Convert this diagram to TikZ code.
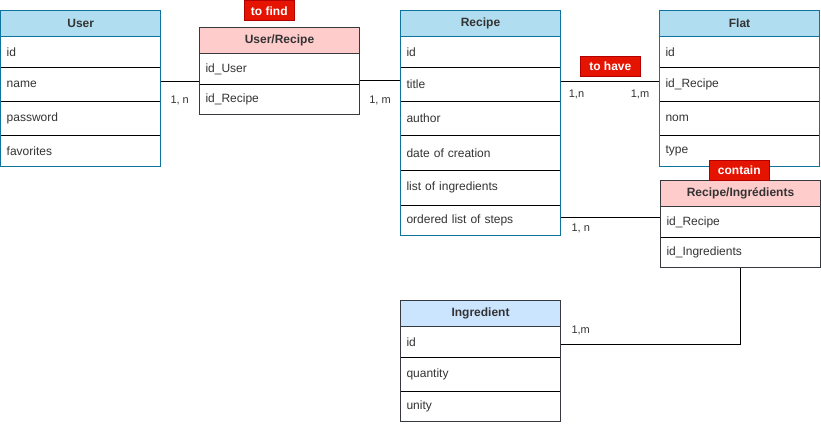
\documentclass[tikz,border=0pt]{standalone}
\usepackage{fontspec}
\setmainfont{Liberation Sans}
\usetikzlibrary{calc}
\definecolor{txt}{HTML}{333333}
\definecolor{bluefill}{HTML}{B1DDF0}
\definecolor{bluedraw}{HTML}{10739E}
\definecolor{pinkfill}{HTML}{FFCCCC}
\definecolor{lightblue}{HTML}{CCE5FF}
\definecolor{graydraw}{HTML}{36393D}
\definecolor{tagred}{HTML}{E51400}
\definecolor{tagdraw}{HTML}{B20000}
\begin{document}
\begin{tikzpicture}[x=1pt,y=-1pt,
  every node/.style={font=\fontsize{12}{14}\selectfont, text=txt},
  hdr/.style={fill=#1, minimum width=160pt, minimum height=26pt, inner sep=0pt,
    anchor=north west, font=\fontsize{12}{14}\selectfont\bfseries},
  fieldrow/.style={minimum height=#1, text width=148pt, inner xsep=6pt,
    inner ysep=0pt, align=left, anchor=north west},
  sep/.style={draw=black, line width=1pt},
  frame/.style={draw=#1, line width=1pt},
  conn/.style={draw=black, line width=1pt},
  tag/.style={fill=tagred, draw=tagdraw, line width=0.8pt, text=white,
    font=\fontsize{12}{14}\selectfont\bfseries, inner sep=0pt, minimum height=20pt},
  card/.style={font=\fontsize{11}{13}\selectfont, inner sep=0pt},
]
\useasboundingbox (0,0) rectangle (821,424);
\fill[white] (0,0) rectangle (821,424);

% ---------- User ----------
\node[hdr=bluefill] (uh) at (0.5,10.3) {User};
\node[fieldrow=30.4pt] (u1) at (uh.south west) {id};
\node[fieldrow=33.6pt] (u2) at (u1.south west) {name};
\node[fieldrow=34pt]   (u3) at (u2.south west) {password};
\node[fieldrow=30pt]   (u4) at (u3.south west) {favorites};
\foreach \r in {u1,u2,u3} \draw[sep] (\r.south west) -- (\r.south east);
\draw[frame=bluedraw] (uh.south west) -- (uh.south east);
\draw[frame=bluedraw] (uh.north west) rectangle (u4.south east);

% ---------- User/Recipe ----------
\node[hdr=pinkfill] (urh) at (199.3,27.3) {User/Recipe};
\node[fieldrow=30pt] (ur1) at (urh.south west) {id\_User};
\node[fieldrow=30pt] (ur2) at (ur1.south west) {id\_Recipe};
\draw[sep] (ur1.south west) -- (ur1.south east);
\draw[frame=graydraw] (urh.south west) -- (urh.south east);
\draw[frame=graydraw] (urh.north west) rectangle (ur2.south east);

% ---------- Recipe ----------
\node[hdr=bluefill] (rh) at (400.3,10.3) {Recipe};
\node[fieldrow=30.4pt] (r1) at (rh.south west) {id};
\node[fieldrow=33.6pt] (r2) at (r1.south west) {title};
\node[fieldrow=34pt]   (r3) at (r2.south west) {author};
\node[fieldrow=34pt]   (r4) at (r3.south west) {date of creation};
\node[fieldrow=34.4pt] (r5) at (r4.south west) {list of ingredients};
\node[fieldrow=29.6pt] (r6) at (r5.south west) {ordered list of steps};
\foreach \r in {r1,r2,r3,r4,r5} \draw[sep] (\r.south west) -- (\r.south east);
\draw[frame=bluedraw] (rh.south west) -- (rh.south east);
\draw[frame=bluedraw] (rh.north west) rectangle (r6.south east);

% ---------- Flat ----------
\node[hdr=bluefill] (fh) at (659.3,10.3) {Flat};
\node[fieldrow=30.4pt] (f1) at (fh.south west) {id};
\node[fieldrow=33.6pt] (f2) at (f1.south west) {id\_Recipe};
\node[fieldrow=34pt]   (f3) at (f2.south west) {nom};
\node[fieldrow=30pt]   (f4) at (f3.south west) {type};
\foreach \r in {f1,f2,f3} \draw[sep] (\r.south west) -- (\r.south east);
\draw[frame=bluedraw] (fh.south west) -- (fh.south east);
\draw[frame=bluedraw] (fh.north west) rectangle (f4.south east);

% ---------- Recipe/Ingrédients ----------
\node[hdr=pinkfill, minimum height=25.6pt] (rih) at (660.3,180.7) {Recipe/Ingrédients};
\node[fieldrow=30pt] (ri1) at (rih.south west) {id\_Recipe};
\node[fieldrow=30pt] (ri2) at (ri1.south west) {id\_Ingredients};
\draw[sep] (ri1.south west) -- (ri1.south east);
\draw[frame=graydraw] (rih.south west) -- (rih.south east);
\draw[frame=graydraw] (rih.north west) rectangle (ri2.south east);

% ---------- Ingredient ----------
\node[hdr=lightblue] (ih) at (400.3,300.3) {Ingredient};
\node[fieldrow=30pt]   (i1) at (ih.south west) {id};
\node[fieldrow=33.7pt] (i2) at (i1.south west) {quantity};
\node[fieldrow=30pt]   (i3) at (i2.south west) {unity};
\foreach \r in {i1,i2} \draw[sep] (\r.south west) -- (\r.south east);
\draw[frame=graydraw] (ih.south west) -- (ih.south east);
\draw[frame=graydraw] (ih.north west) rectangle (i3.south east);

% ---------- relation tags ----------
\node[tag, minimum width=50pt] (tfind) at (269.3,10.8) {to find};
\node[tag, minimum width=60.7pt] (thave) at (610.3,66.3) {to have};
\node[tag, minimum width=60pt] (tcontain) at (739.3,170.7) {contain};

% ---------- connectors ----------
\coordinate (p1) at ([yshift=3.5pt]u2.east);
\draw[conn] (p1) -- (p1 -| ur1.west);
\coordinate (p2) at ([yshift=3.3pt]ur1.south east);
\draw[conn] (p2) -- (p2 -| r2.west);
\coordinate (p3) at ([yshift=3.5pt]r2.east);
\draw[conn] (p3) -- (p3 -| f2.west);
\coordinate (p4) at ([yshift=2.5pt]r6.east);
\draw[conn] (p4) -- (p4 -| ri1.west);
\coordinate (p5) at ([yshift=-2.7pt]i1.east);
\draw[conn] (ri2.south) |- (p5);

% ---------- cardinalities ----------
\node[card] (k1) at (179.7,100) {1, n};
\node[card] (k2) at (380,100) {1, m};
\node[card] (k3) at (576.5,94) {1,n};
\node[card] (k4) at (640,94) {1,m};
\node[card] (k5) at (580.7,228) {1, n};
\node[card] (k6) at (580.7,330) {1,m};
\end{tikzpicture}
\end{document}
